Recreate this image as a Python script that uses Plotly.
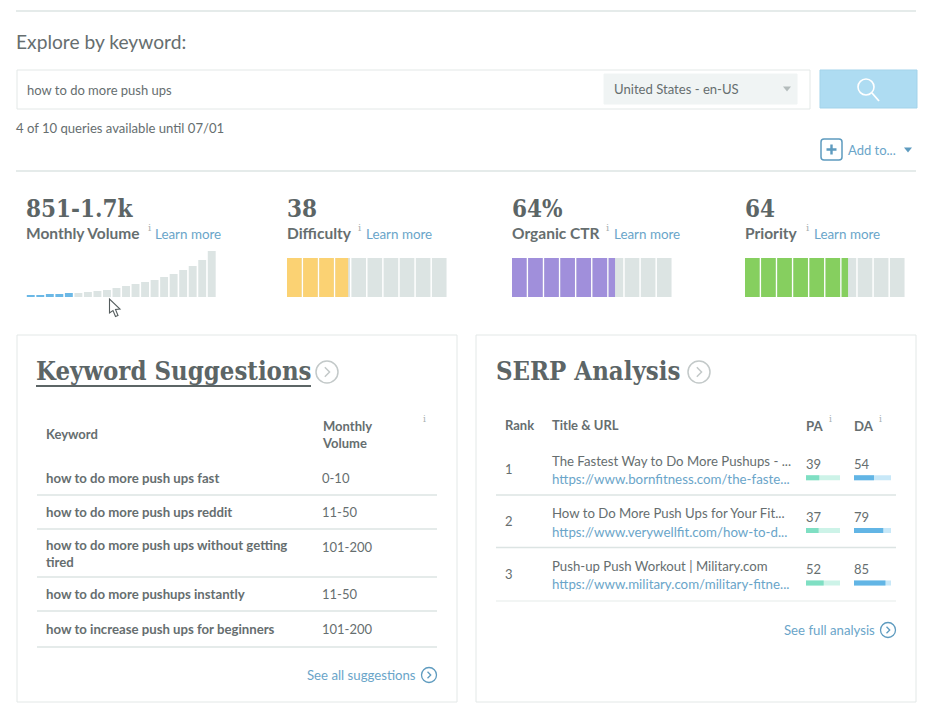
import plotly.graph_objects as go

# values
volume_trend = [2, 2, 3, 3, 4, 4, 5, 6, 7, 9, 11, 13, 15, 17, 20, 23, 27, 31, 37, 46]
volume_highlight = 5
difficulty = 38
organic_ctr = 64
priority = 64

suggest_keywords = [
    "how to do more push ups fast",
    "how to do more push ups reddit",
    "how to do more push ups without getting<br>tired",
    "how to do more pushups instantly",
    "how to increase push ups for beginners",
]
suggest_volumes = ["0-10", "11-50", "101-200", "11-50", "101-200"]

serp_ranks = [1, 2, 3]
serp_titles = [
    "The Fastest Way to Do More Pushups - ...",
    "How to Do More Push Ups for Your Fit...",
    "Push-up Push Workout | Military.com",
]
serp_urls = [
    "https://www.bornfitness.com/the-faste...",
    "https://www.verywellfit.com/how-to-d...",
    "https://www.military.com/military-fitne...",
]
serp_pa = [39, 37, 52]
serp_da = [54, 79, 85]

W, H = 932, 714
SANS = "Lato"
SLAB = '"DejaVu Serif Condensed", "DejaVu Serif"'
DARK = "#5c6566"
TEXT = "#666e6f"
LINK = "#6aa5c9"
TRACK = "#dce4e3"

fig = go.Figure()
fig.add_trace(go.Scatter(x=[], y=[], xaxis="x", yaxis="y"))  # keeps the pixel canvas axes alive

layout_axes = {
    "xaxis": dict(range=[0, W], domain=[0, 1], visible=False, fixedrange=True),
    "yaxis": dict(range=[H, 0], domain=[0, 1], visible=False, fixedrange=True),
}
n_axes = 1


def new_axes(x0, x1, y0, y1, xrange, yrange):
    # small subplot placed by its pixel box
    global n_axes
    n_axes += 1
    n = n_axes
    layout_axes[f"xaxis{n}"] = dict(domain=[x0 / W, x1 / W], range=xrange, visible=False,
                                    anchor=f"y{n}", fixedrange=True)
    layout_axes[f"yaxis{n}"] = dict(domain=[1 - y1 / H, 1 - y0 / H], range=yrange, visible=False,
                                    anchor=f"x{n}", fixedrange=True)
    return f"x{n}", f"y{n}"


def text(x, y, s, size=13, color=TEXT, family=SANS, anchor="left"):
    if anchor == "left":
        x -= 1
    fig.add_annotation(x=x, y=y, xref="x", yref="y", text=s, showarrow=False, xanchor=anchor,
                       yanchor="middle", align="left", borderpad=0,
                       font=dict(size=size, color=color, family=family))


def line(x0, x1, y, color=TRACK, width=1.5):
    fig.add_shape(type="line", x0=x0, x1=x1, y0=y, y1=y, xref="x", yref="y",
                  line=dict(color=color, width=width))


def box(x0, y0, x1, y1, fill="rgba(0,0,0,0)", border="#e3e8e7", width=1):
    fig.add_shape(type="rect", x0=x0, x1=x1, y0=y0, y1=y1, xref="x", yref="y", fillcolor=fill,
                  line=dict(color=border, width=width))


def path(d, color, width=1.5, fill="rgba(0,0,0,0)"):
    fig.add_shape(type="path", path=d, xref="x", yref="y", fillcolor=fill,
                  line=dict(color=color, width=width))


def chevron(cx, cy, r, color, width=1.3):
    fig.add_shape(type="circle", x0=cx - r, x1=cx + r, y0=cy - r, y1=cy + r, xref="x", yref="y",
                  line=dict(color=color, width=width))
    k = r * 0.33
    path(f"M {cx - k * 0.6} {cy - k * 1.3} L {cx + k * 0.7} {cy} L {cx - k * 0.6} {cy + k * 1.3}", color, width)


def caret(cx, cy, color):
    path(f"M {cx - 4} {cy - 2.5} L {cx + 4} {cy - 2.5} L {cx} {cy + 2.5} Z", color, 0, color)


def score_bar(score, x0, color):
    # ten grey cells on a 0-100 axis, score colour laid over them
    xa, ya = new_axes(x0, x0 + 161, 258, 297, [0, 100], [-0.5, 0.5])
    starts = [i * 10 for i in range(10)]
    fig.add_trace(go.Bar(x=[9.1] * 10, base=starts, y=[0] * 10, orientation="h", width=1,
                         marker=dict(color=TRACK, line_width=0), xaxis=xa, yaxis=ya, hoverinfo="skip"))
    used = [s for s in starts if s < score]
    fig.add_trace(go.Bar(x=[min(9.1, score - s) for s in used], base=used, y=[0] * len(used),
                         orientation="h", width=1, marker=dict(color=color, line_width=0),
                         xaxis=xa, yaxis=ya, hoverinfo="skip"))


def authority_bars(values, x0, x1, fill, track):
    xa, ya = new_axes(x0, x1, 451.4, 609.4, [0, 100], [3.5, 0.5])
    fig.add_trace(go.Bar(x=[100] * len(values), y=serp_ranks, orientation="h", width=0.095,
                         marker=dict(color=track, line_width=0), xaxis=xa, yaxis=ya, hoverinfo="skip"))
    fig.add_trace(go.Bar(x=values, y=serp_ranks, orientation="h", width=0.095,
                         marker=dict(color=fill, line_width=0), xaxis=xa, yaxis=ya, hoverinfo="skip"))


# search header
line(16, 916, 11)
text(16, 41, "Explore by keyword:", 19.2)
box(17, 70, 810, 109)
box(604, 74, 797, 104, fill="#f0f4f4", border="#f0f4f4")
text(27, 90, "how to do more push ups", 13)
text(614, 89, "United States - en-US", 13.1)
caret(787, 89, "#b4bcbc")
box(820, 70, 917, 108, fill="#aedcf2", border="#a3d3ea")
fig.add_shape(type="circle", x0=858, x1=874, y0=79, y1=95, xref="x", yref="y", line=dict(color="white", width=1.6))
path("M 872 93 L 879 101", "white", 1.8)
text(16, 128, "4 of 10 queries available until 07/01", 13.1)
path("M 824 139 L 839 139 Q 842 139 842 142 L 842 157 Q 842 160 839 160 L 824 160 Q 821 160 821 157 "
     "L 821 142 Q 821 139 824 139 Z", "#5e9bbf", 1.5)
path("M 831.5 144.5 L 831.5 154.5 M 826.5 149.5 L 836.5 149.5", "#5e9bbf", 2.4)
text(848, 150, "Add to...", 13, LINK)
caret(908, 150, "#5e9bbf")
line(16, 916, 171)

# metric headers
metric_names = ["Monthly Volume", "Difficulty", "Organic CTR", "Priority"]
metric_values = ["851-1.7k", f"{difficulty}", f"{organic_ctr}%", f"{priority}"]
metric_x = [26, 287, 512, 745]
info_x = [148, 358, 606, 806]
learn_x = [155, 366, 614, 814]
for name, val, mx, ix, lx in zip(metric_names, metric_values, metric_x, info_x, learn_x):
    text(mx, 208, f"<b>{val}</b>", 24, DARK, SLAB)
    text(mx, 233, f"<b>{name}</b>", 15.5, TEXT)
    text(ix, 227, "i", 10, "#a8b0b0", "DejaVu Serif")
    text(lx, 234, "Learn more", 13.4, LINK)

# monthly volume mini bars
xa, ya = new_axes(26, 216.5, 250, 297, [0.5, 20.5], [0, 47])
months = list(range(1, len(volume_trend) + 1))
fig.add_trace(go.Bar(x=months[volume_highlight:], y=volume_trend[volume_highlight:], width=0.83,
                     marker=dict(color=TRACK, line_width=0), xaxis=xa, yaxis=ya, hoverinfo="skip"))
fig.add_trace(go.Bar(x=months[:volume_highlight], y=volume_trend[:volume_highlight], width=0.83,
                     marker=dict(color="#6bb8e6", line_width=0), xaxis=xa, yaxis=ya, hoverinfo="skip"))

score_bar(difficulty, 287, "#fbd273")
score_bar(organic_ctr, 512, "#a08fdb")
score_bar(priority, 745, "#86cf5f")

# mouse cursor from the screenshot
path("M 109.5 299 L 109.5 313 L 113 310.5 L 115.5 316.5 L 118 315.5 L 115.5 309.5 L 120 309 Z",
     "#555d5e", 1.1, "white")

# panels
box(17, 335, 457, 702)
box(476, 335, 916, 702)

text(36, 371, "<b>Keyword Suggestions</b>", 25.5, DARK, SLAB)
line(36, 311, 386, DARK, 1.8)
chevron(327, 372, 11, "#c3c9c9", 1.5)
text(46, 434, "<b>Keyword</b>", 13)
text(322, 434.5, "<b>Monthly<br>Volume</b>", 13)
text(423, 419, "i", 9, "#a8b0b0", "DejaVu Serif")

row_y = [478, 512, 553, 594, 629]
volume_y = [478, 512, 547, 594, 629]
rule_y = [495, 529, 577, 611, 647]
for kw, vol, ry, vy, ly in zip(suggest_keywords, suggest_volumes, row_y, volume_y, rule_y):
    text(46, ry, f"<b>{kw}</b>", 13.2)
    text(322, vy, vol, 13)
    line(37, 437, ly)
text(417, 675, "See all suggestions", 13.2, LINK, anchor="right")
chevron(429, 675, 7.5, "#5e9bbf")

text(496, 371, "<b>SERP Analysis</b>", 25.5, DARK, SLAB)
chevron(699, 372, 11, "#c3c9c9", 1.5)
text(505, 425, "<b>Rank</b>", 13)
text(552, 425, "<b>Title &amp; URL</b>", 13)
text(806, 425.5, "<b>PA</b>", 13.2)
text(854, 425.5, "<b>DA</b>", 13.2)
text(829, 419, "i", 9, "#a8b0b0", "DejaVu Serif")
text(879, 419, "i", 9, "#a8b0b0", "DejaVu Serif")

serp_title_y = [460.5, 513, 566]
serp_url_y = [479, 531.5, 584]
serp_rank_y = [469, 521, 574]
serp_num_y = [464, 516.5, 569]
serp_rule_y = [495, 547.5, 601]
rule_colors = [TRACK, TRACK, "#eef2f1"]
for i in range(3):
    text(505, serp_rank_y[i], str(serp_ranks[i]), 13)
    text(552, serp_title_y[i], serp_titles[i], 13.2)
    text(552, serp_url_y[i], serp_urls[i], 13.3, LINK)
    text(806, serp_num_y[i], str(serp_pa[i]), 13)
    text(854, serp_num_y[i], str(serp_da[i]), 13)
    line(496, 896, serp_rule_y[i], rule_colors[i])

authority_bars(serp_pa, 806, 840, "#7fdfc3", "#cdf3e8")
authority_bars(serp_da, 854, 891, "#62b5e5", "#c8e8f8")

text(875.5, 630, "See full analysis", 13.2, LINK, anchor="right")
chevron(888, 630, 7.5, "#5e9bbf")

fig.update_layout(width=W, height=H, margin=dict(l=0, r=0, t=0, b=0), showlegend=False,
                  barmode="overlay", paper_bgcolor="white", plot_bgcolor="white", **layout_axes)

fig.write_html("out.html", config={"displayModeBar": False},
               post_script="document.body.style.margin='0';")
